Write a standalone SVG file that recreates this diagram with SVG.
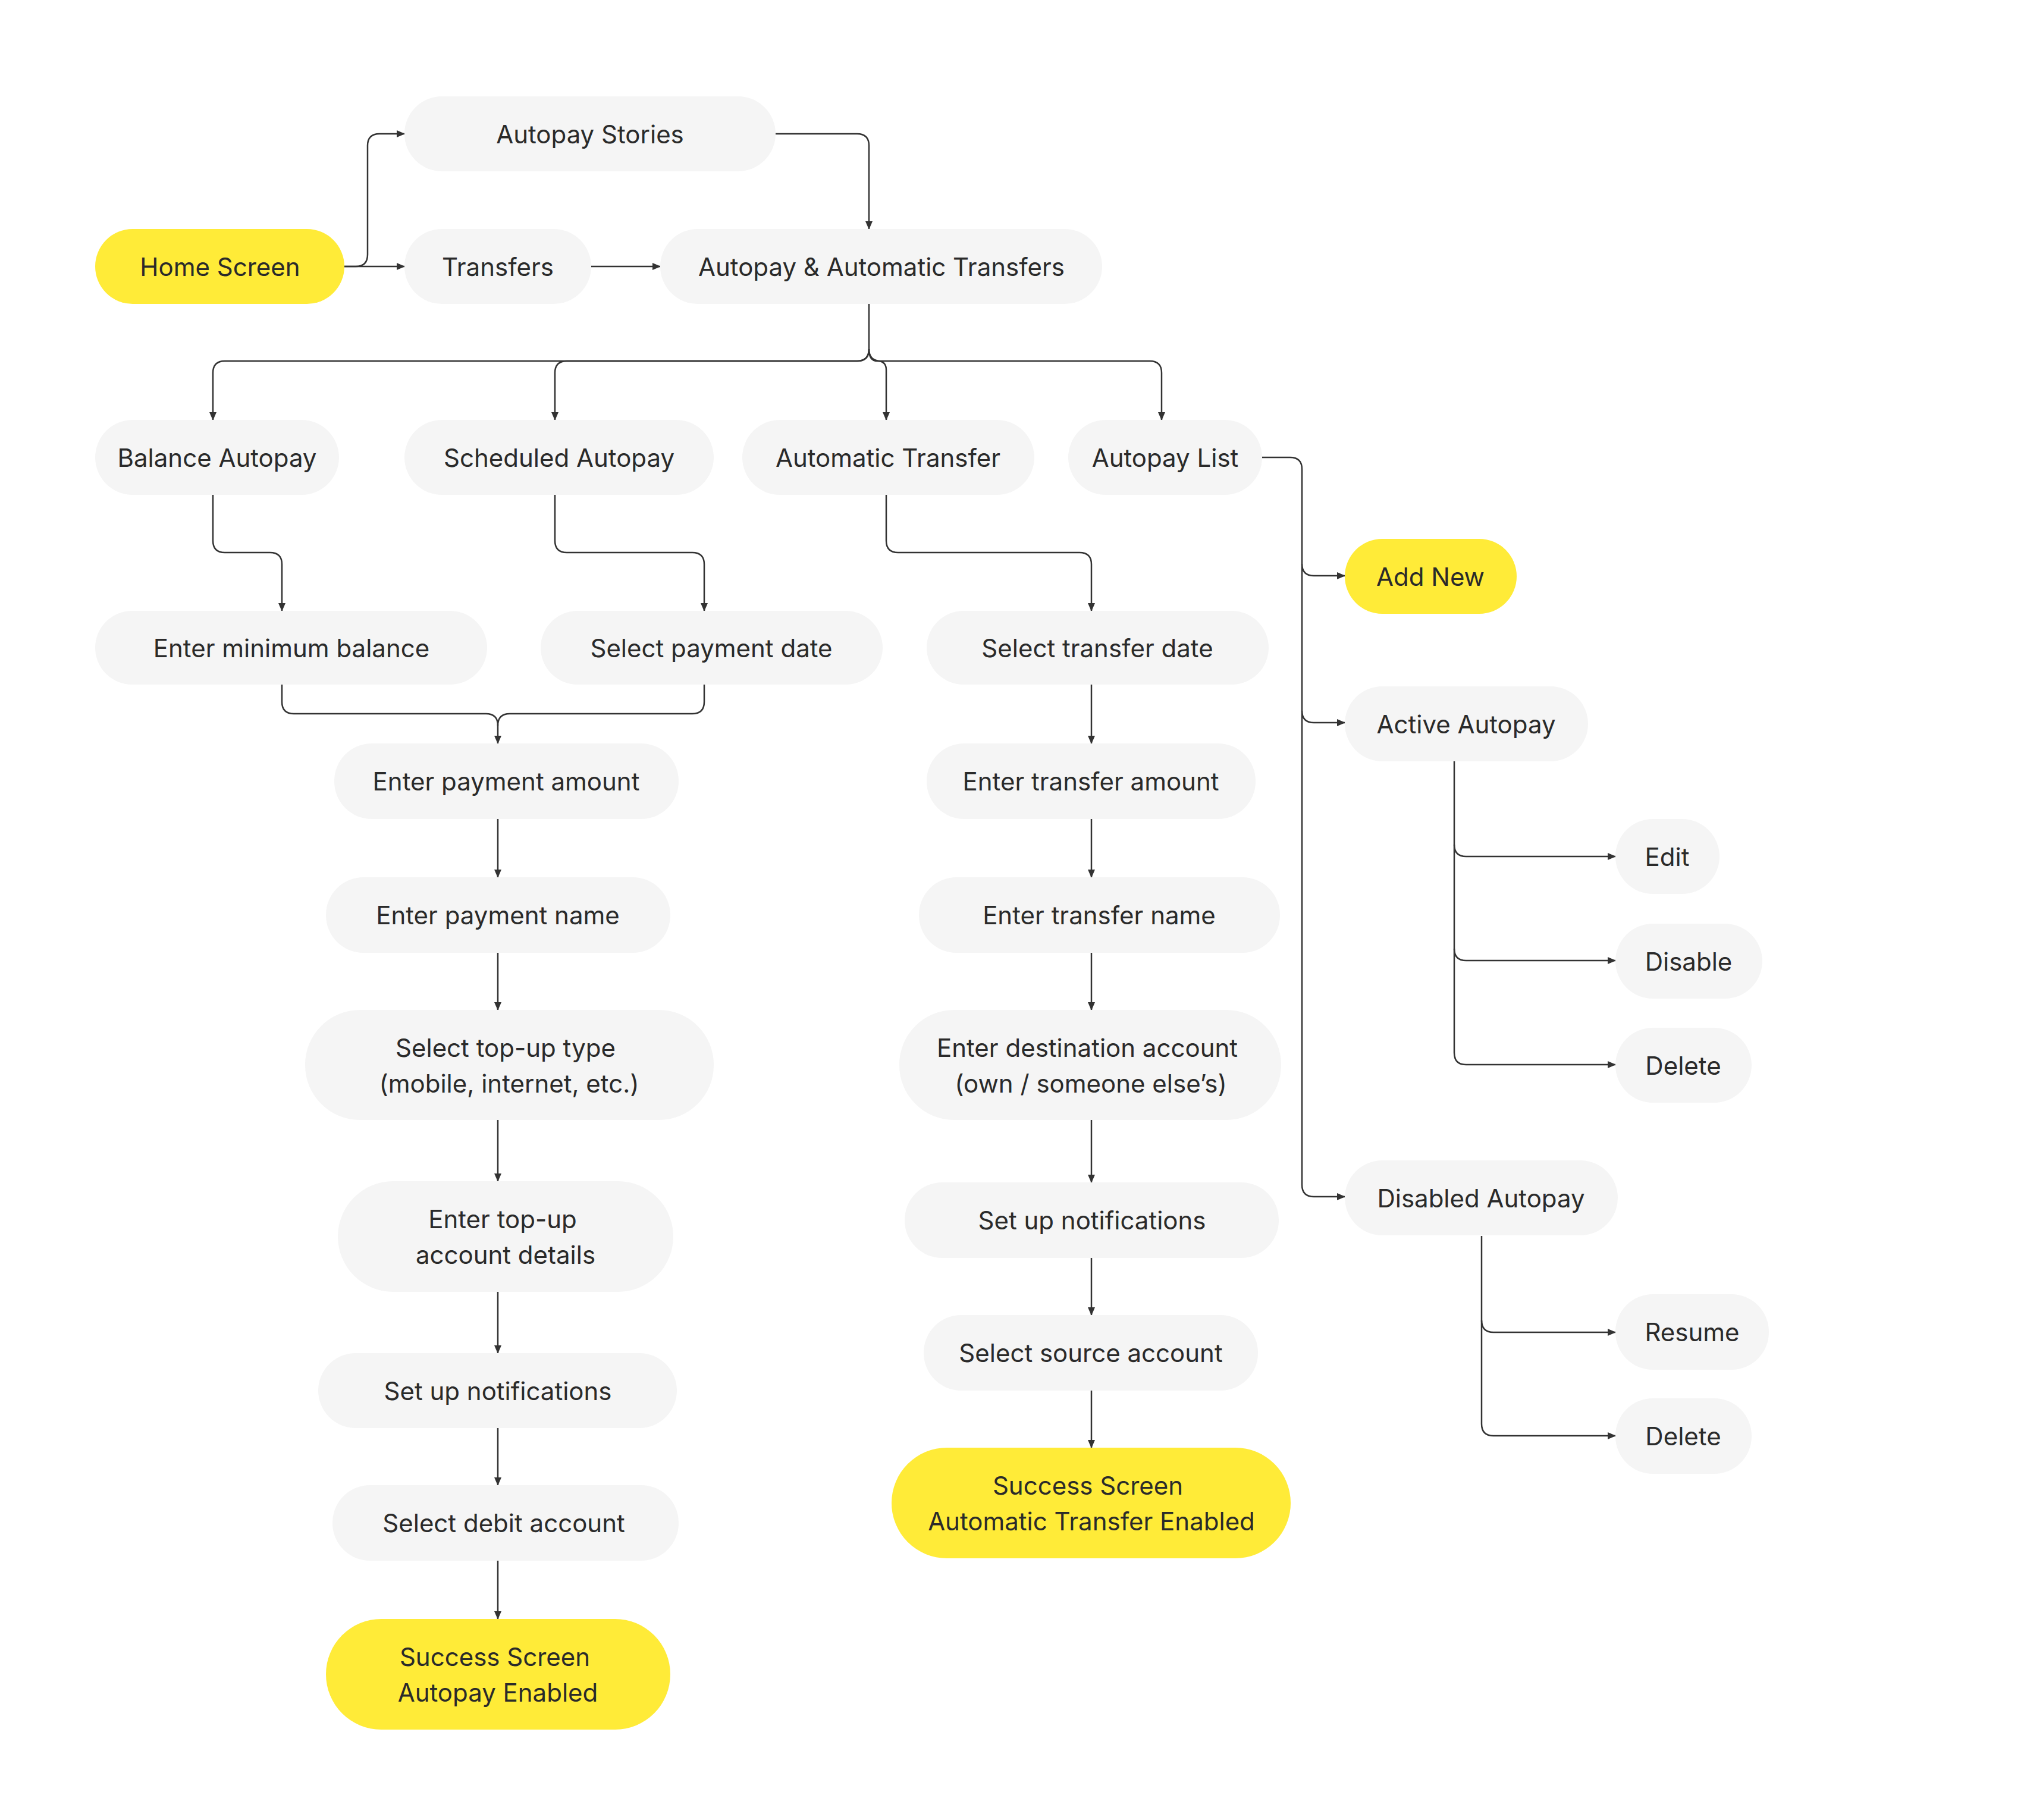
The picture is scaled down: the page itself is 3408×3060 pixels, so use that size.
<svg xmlns="http://www.w3.org/2000/svg" width="3408" height="3060" viewBox="0 0 3408 3060">
<style>
.n{fill:#f5f5f5}.y{fill:#ffeb38}
text{font-family:Inter,"Liberation Sans",sans-serif;font-size:42px;fill:#2a2a2a;text-anchor:middle;dominant-baseline:central}
#edges path{fill:none;stroke:#333;stroke-width:2.5;marker-end:url(#a)}
#edges path.b{marker-end:none}
</style>
<defs><marker id="a" markerUnits="userSpaceOnUse" markerWidth="14" markerHeight="14" refX="13" refY="7" orient="auto"><path d="M0,1 L14,7 L0,13 z" fill="#333"/></marker></defs>
<rect width="3408" height="3060" fill="#fff"/>
<g id="edges">
<path d="M579,448 H598 Q618,448 618,428 V245 Q618,225 638,225 H680"/>
<path d="M579,448 H680"/>
<path d="M994,448 H1110"/>
<path d="M1304,225 H1441 Q1461,225 1461,245 V385"/>
<path d="M1461,511 V587 Q1461,607 1441,607 H378 Q358,607 358,627 V706"/>
<path d="M1461,587 Q1461,607 1441,607 H953 Q933,607 933,627 V706"/>
<path d="M1461,587 Q1461,607 1475,607 Q1490,607 1490,622 V706"/>
<path d="M1461,587 Q1461,607 1481,607 H1933 Q1953,607 1953,627 V706"/>
<path d="M358,832 V909 Q358,929 378,929 H454 Q474,929 474,949 V1027"/>
<path d="M933,832 V909 Q933,929 953,929 H1164 Q1184,929 1184,949 V1027"/>
<path d="M1490,832 V909 Q1490,929 1510,929 H1815 Q1835,929 1835,949 V1027"/>
<path d="M474,1151 V1180 Q474,1200 494,1200 H817 Q837,1200 837,1220 V1250"/>
<path class="b" d="M1184,1151 V1180 Q1184,1200 1164,1200 H857 Q837,1200 837,1220"/>
<path d="M837,1377 V1475"/><path d="M837,1602 V1698"/><path d="M837,1883 V1986"/><path d="M837,2172 V2275"/><path d="M837,2401 V2497"/><path d="M837,2624 V2722"/>
<path d="M1835,1151 V1250"/><path d="M1835,1377 V1475"/><path d="M1835,1602 V1698"/><path d="M1835,1883 V1988"/><path d="M1835,2115 V2211"/><path d="M1835,2338 V2434"/>
<path d="M2122,769 H2169 Q2189,769 2189,789 V1992 Q2189,2012 2209,2012 H2261"/>
<path d="M2189,948 Q2189,968 2209,968 H2261"/>
<path d="M2189,1195 Q2189,1215 2209,1215 H2261"/>
<path d="M2445,1280 V1770 Q2445,1790 2465,1790 H2716"/>
<path d="M2445,1420 Q2445,1440 2465,1440 H2716"/>
<path d="M2445,1595 Q2445,1615 2465,1615 H2716"/>
<path d="M2491,2078 V2394 Q2491,2414 2511,2414 H2716"/>
<path d="M2491,2220 Q2491,2240 2511,2240 H2716"/>
</g>
<g id="home"><rect class="y" x="160" y="385" width="419" height="126" rx="63"/><text x="370" y="448">Home Screen</text></g>
<g id="stories"><rect class="n" x="680" y="162" width="624" height="126" rx="63"/><text x="992" y="225">Autopay Stories</text></g>
<g id="transfers"><rect class="n" x="680" y="385" width="314" height="126" rx="63"/><text x="837" y="448">Transfers</text></g>
<g id="aat"><rect class="n" x="1110" y="385" width="743" height="126" rx="63"/><text x="1482" y="448">Autopay &amp; Automatic Transfers</text></g>
<g id="balance"><rect class="n" x="160" y="706" width="410" height="126" rx="63"/><text x="365" y="769">Balance Autopay</text></g>
<g id="scheduled"><rect class="n" x="680" y="706" width="520" height="126" rx="63"/><text x="940" y="769">Scheduled Autopay</text></g>
<g id="autotransfer"><rect class="n" x="1248" y="706" width="491" height="126" rx="63"/><text x="1493" y="769">Automatic Transfer</text></g>
<g id="list"><rect class="n" x="1796" y="706" width="326" height="126" rx="63"/><text x="1959" y="769">Autopay List</text></g>
<g id="addnew"><rect class="y" x="2261" y="906" width="289" height="126" rx="63"/><text x="2405" y="969">Add New</text></g>
<g id="minbal"><rect class="n" x="160" y="1027" width="659" height="124" rx="62"/><text x="490" y="1089">Enter minimum balance</text></g>
<g id="paydate"><rect class="n" x="909" y="1027" width="575" height="124" rx="62"/><text x="1196" y="1089">Select payment date</text></g>
<g id="trdate"><rect class="n" x="1558" y="1027" width="575" height="124" rx="62"/><text x="1845" y="1089">Select transfer date</text></g>
<g id="active"><rect class="n" x="2261" y="1154" width="409" height="126" rx="63"/><text x="2465" y="1217">Active Autopay</text></g>
<g id="payamt"><rect class="n" x="562" y="1250" width="579" height="127" rx="63"/><text x="851" y="1313">Enter payment amount</text></g>
<g id="tramt"><rect class="n" x="1558" y="1250" width="553" height="127" rx="63"/><text x="1834" y="1313">Enter transfer amount</text></g>
<g id="edit"><rect class="n" x="2716" y="1377" width="175" height="126" rx="63"/><text x="2803" y="1440">Edit</text></g>
<g id="payname"><rect class="n" x="548" y="1475" width="579" height="127" rx="63"/><text x="837" y="1538">Enter payment name</text></g>
<g id="trname"><rect class="n" x="1545" y="1475" width="607" height="127" rx="63"/><text x="1848" y="1538">Enter transfer name</text></g>
<g id="disable"><rect class="n" x="2716" y="1553" width="247" height="126" rx="63"/><text x="2839" y="1616">Disable</text></g>
<g id="topuptype"><rect class="n" x="513" y="1698" width="687" height="185" rx="92"/><text x="850" y="1761">Select top-up type</text><text x="856" y="1821">(mobile, internet, etc.)</text></g>
<g id="dest"><rect class="n" x="1512" y="1698" width="642" height="185" rx="92"/><text x="1828" y="1761">Enter destination account</text><text x="1834" y="1821">(own / someone else’s)</text></g>
<g id="delete1"><rect class="n" x="2716" y="1728" width="229" height="126" rx="63"/><text x="2830" y="1791">Delete</text></g>
<g id="disabled"><rect class="n" x="2261" y="1951" width="459" height="126" rx="63"/><text x="2490" y="2014">Disabled Autopay</text></g>
<g id="topupacc"><rect class="n" x="568" y="1986" width="564" height="186" rx="93"/><text x="845" y="2049">Enter top-up</text><text x="850" y="2109">account details</text></g>
<g id="notif2"><rect class="n" x="1521" y="1988" width="629" height="127" rx="63"/><text x="1836" y="2051">Set up notifications</text></g>
<g id="resume"><rect class="n" x="2716" y="2176" width="258" height="127" rx="63"/><text x="2845" y="2239">Resume</text></g>
<g id="notif1"><rect class="n" x="535" y="2275" width="603" height="126" rx="63"/><text x="837" y="2338">Set up notifications</text></g>
<g id="source"><rect class="n" x="1553" y="2211" width="562" height="127" rx="63"/><text x="1834" y="2274">Select source account</text></g>
<g id="delete2"><rect class="n" x="2716" y="2351" width="229" height="127" rx="63"/><text x="2830" y="2414">Delete</text></g>
<g id="successT"><rect class="y" x="1499" y="2434" width="671" height="186" rx="93"/><text x="1829" y="2497">Success Screen</text><text x="1835" y="2557">Automatic Transfer Enabled</text></g>
<g id="debit"><rect class="n" x="559" y="2497" width="582" height="127" rx="63"/><text x="847" y="2560">Select debit account</text></g>
<g id="successA"><rect class="y" x="548" y="2722" width="579" height="186" rx="93"/><text x="832" y="2785">Success Screen</text><text x="837" y="2845">Autopay Enabled</text></g>
</svg>
